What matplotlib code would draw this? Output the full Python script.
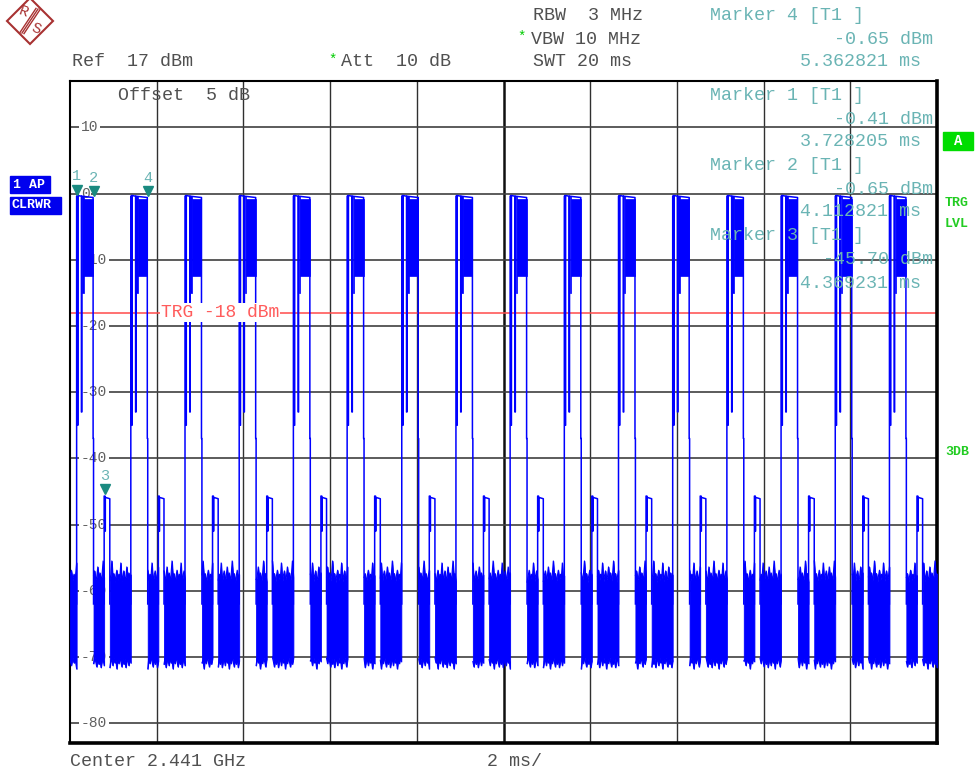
import numpy as np
import matplotlib
matplotlib.use("Agg")
import matplotlib.pyplot as plt
from matplotlib.patches import Polygon, Rectangle

plt.rcParams['font.family'] = ['Liberation Mono', 'DejaVu Sans Mono']

### sweep: 20 ms shown, starting at 3.567 ms (marker times are absolute)
t_start = 3.567
sweep = 20.0
ref_level = 17
y_bottom = -83
grid_db = [10, 0, -10, -20, -30, -40, -50, -60, -70, -80]
trg_level = -18

### burst starts (ms)
burst_starts = [3.72, 4.97, 6.22, 7.47, 8.72, 9.96, 11.22, 12.47,
                13.72, 14.97, 16.22, 17.47, 18.72, 19.97, 21.22, 22.47]

### one burst, outline (offset ms, dBm)
burst_t = [0.0, 0.0, 0.02, 0.02, 0.03, 0.03, 0.11, 0.11, 0.12, 0.12, 0.38, 0.38, 0.39, 0.39]
burst_db = [-62, -0.4, -0.3, -35, -35, -0.3, -0.4, -33, -33, -0.4, -0.6, -37, -37, -62]
# dense parts of the burst: start, end, top, bottom
burst_blocks = [(0.125, 0.16, -0.4, -15.0), (0.155, 0.378, -0.8, -12.5)]

### small pulse after each burst
pulse_t = [0.635, 0.635, 0.655, 0.655, 0.662, 0.662, 0.765, 0.765]
pulse_db = [-62, -45.7, -45.7, -51, -51, -45.9, -46.1, -62]

### noise floor segments (offset ms) and its jagged envelope
noise_segs = [(0.39, 0.635), (0.765, 1.25)]
noise_top = [-57.8, -56.9, -58.4, -57.5, -58.1, -55.8, -58.6, -57.7, -57.0, -58.3,
             -57.9, -56.4, -58.2, -57.3, -58.5, -57.6, -55.5, -58.0, -57.4, -58.7]
noise_bot = [-70.4, -71.3, -70.1, -70.9, -70.5, -71.8, -70.2, -71.0, -70.0, -70.7,
             -71.5, -70.3, -71.1, -70.2, -71.6, -70.6]

### markers
marker_ids = ["1", "2", "3", "4"]
marker_t = [3.728205, 4.112821, 4.369231, 5.362821]
marker_db = [-0.41, -0.65, -45.70, -0.65]

blue = "#0000ff"
teal = "#6ab4b4"
grid_c = "#303030"

fig = plt.figure(figsize=(9.77, 7.74), dpi=100)
ax = fig.add_axes([70 / 977, 1 - 743 / 774, 867 / 977, 662 / 774])
ax.set_xlim(t_start, t_start + sweep)
ax.set_ylim(y_bottom, ref_level)
ax.set_xticks([])
ax.set_yticks([])
for s in ["left", "top"]:
    ax.spines[s].set_linewidth(1.5)
for s in ["right", "bottom"]:
    ax.spines[s].set_linewidth(2.6)

# grid
for k in range(1, 10):
    lw = 1.8 if k == 5 else 1.0
    ax.axvline(t_start + 2 * k, color="#101010" if k == 5 else grid_c, lw=lw, zorder=1)
for g in grid_db:
    ax.axhline(g, color="#404040", lw=1.2, zorder=1)
    ax.text(t_start + 0.25, g, str(g), fontsize=10.5, color="#606060", va="center",
            ha="left", zorder=2,
            bbox=dict(facecolor="white", edgecolor="none", pad=1))

# trigger line
ax.axhline(trg_level, color="#ff4a4a", lw=1.1, zorder=2.5)
ax.text(t_start + 2.1, trg_level, "TRG -18 dBm", color="#ff5c5c", fontsize=13,
        va="center", ha="left", zorder=5,
        bbox=dict(facecolor="white", edgecolor="none", pad=0.5))

# trace
segs = [(t_start, burst_starts[0])]
for s in burst_starts:
    ax.plot([s + v for v in burst_t], burst_db, color=blue, lw=1.1, zorder=3)
    ax.plot([s + v for v in pulse_t], pulse_db, color=blue, lw=1.1, zorder=3)
    for a, b, top, bot in burst_blocks:
        ax.fill_between([s + a, s + b], [bot, bot], [top, top], color=blue, lw=0.5, zorder=3)
    for a, b in noise_segs:
        segs.append((s + a, min(s + b, t_start + sweep)))

k = 0
for a, b in segs:
    n = max(int((b - a) / 0.022), 3)
    x = np.linspace(a, b, n)
    idx = np.arange(k, k + n)
    top = np.take(noise_top, idx, mode="wrap")
    bot = np.take(noise_bot, idx, mode="wrap")
    ax.fill_between(x, bot, top, color=blue, lw=0.6, zorder=3)
    ax.plot(x, top, color=blue, lw=0.8, zorder=3)
    ax.plot(x, bot, color=blue, lw=0.8, zorder=3)
    k += 7

# marker triangles and numbers
for mid, mt, mdb in zip(marker_ids, marker_t, marker_db):
    ax.plot(mt, mdb + 1.0, marker="v", color="#1a8a80", ms=7, zorder=6)
    ax.text(mt, mdb + 3.0, mid, color=teal, fontsize=11, ha="center", va="center", zorder=6)

# overlay in pixel coordinates for the instrument annotations
ov = fig.add_axes([0, 0, 1, 1], facecolor="none")
ov.set_xlim(0, 977)
ov.set_ylim(774, 0)
ov.axis("off")

gray = "#505050"
fs = 13.2
ov.text(72, 62, "Ref  17 dBm", color=gray, fontsize=fs, va="center")
ov.text(328, 60, "*", color="#00cc00", fontsize=10, va="center")
ov.text(341, 62, "Att  10 dB", color=gray, fontsize=fs, va="center")
ov.text(533, 15, "RBW  3 MHz", color=gray, fontsize=fs, va="center")
ov.text(517, 37, "*", color="#00cc00", fontsize=10, va="center")
ov.text(531, 39, "VBW 10 MHz", color=gray, fontsize=fs, va="center")
ov.text(533, 62, "SWT 20 ms", color=gray, fontsize=fs, va="center")
ov.text(118, 96, "Offset  5 dB", color=gray, fontsize=fs, va="center")
ov.text(70, 761, "Center 2.441 GHz", color=gray, fontsize=fs, va="center")
ov.text(487, 761, "2 ms/", color=gray, fontsize=fs, va="center")

# marker readouts: Marker 4 first, then 1, 2, 3
order = [3, 0, 1, 2]
ys = [15, 95, 165, 236]
for i, y in zip(order, ys):
    ov.text(710, y, "Marker %s [T1 ]" % marker_ids[i], color=teal, fontsize=fs, va="center")
    ov.text(933, y + 24, "%.2f dBm" % marker_db[i], color=teal, fontsize=fs, va="center", ha="right")
    ov.text(921, y + 47, "%.6f ms" % marker_t[i], color=teal, fontsize=fs, va="center", ha="right")

# side labels
ov.add_patch(Rectangle((10, 176), 40, 17, color="#0000ee"))
ov.text(13, 184.5, "1 AP", color="white", fontsize=9.5, weight="bold", va="center")
ov.add_patch(Rectangle((10, 197), 51, 17, color="#0000ee"))
ov.text(12, 205.5, "CLRWR", color="white", fontsize=9.5, weight="bold", va="center")
ov.add_patch(Rectangle((943, 132), 30, 18, color="#00dd00"))
ov.text(958, 141, "A", color="white", fontsize=10, weight="bold", va="center", ha="center")
for txt, y in [("TRG", 203), ("LVL", 224), ("3DB", 452)]:
    ov.text(945, y, txt, color="#22cc22", fontsize=9.5, weight="bold", va="center")

# R&S logo
logo_c = "#a83232"
ov.add_patch(Polygon([[30, -2], [53, 21], [30, 44], [7, 21]], closed=True,
                     fill=False, edgecolor=logo_c, lw=1.5))
for d in [-2, 0, 2]:
    ov.plot([38 + d, 22 + d], [9 + d * 0.3, 33 + d * 0.3], color=logo_c, lw=1.0)
ov.text(23, 12, "R", color=logo_c, fontsize=11, ha="center", va="center", rotation=-20)
ov.text(36, 29, "S", color=logo_c, fontsize=11, ha="center", va="center", rotation=-20)

fig.savefig("out.png", dpi=100)
